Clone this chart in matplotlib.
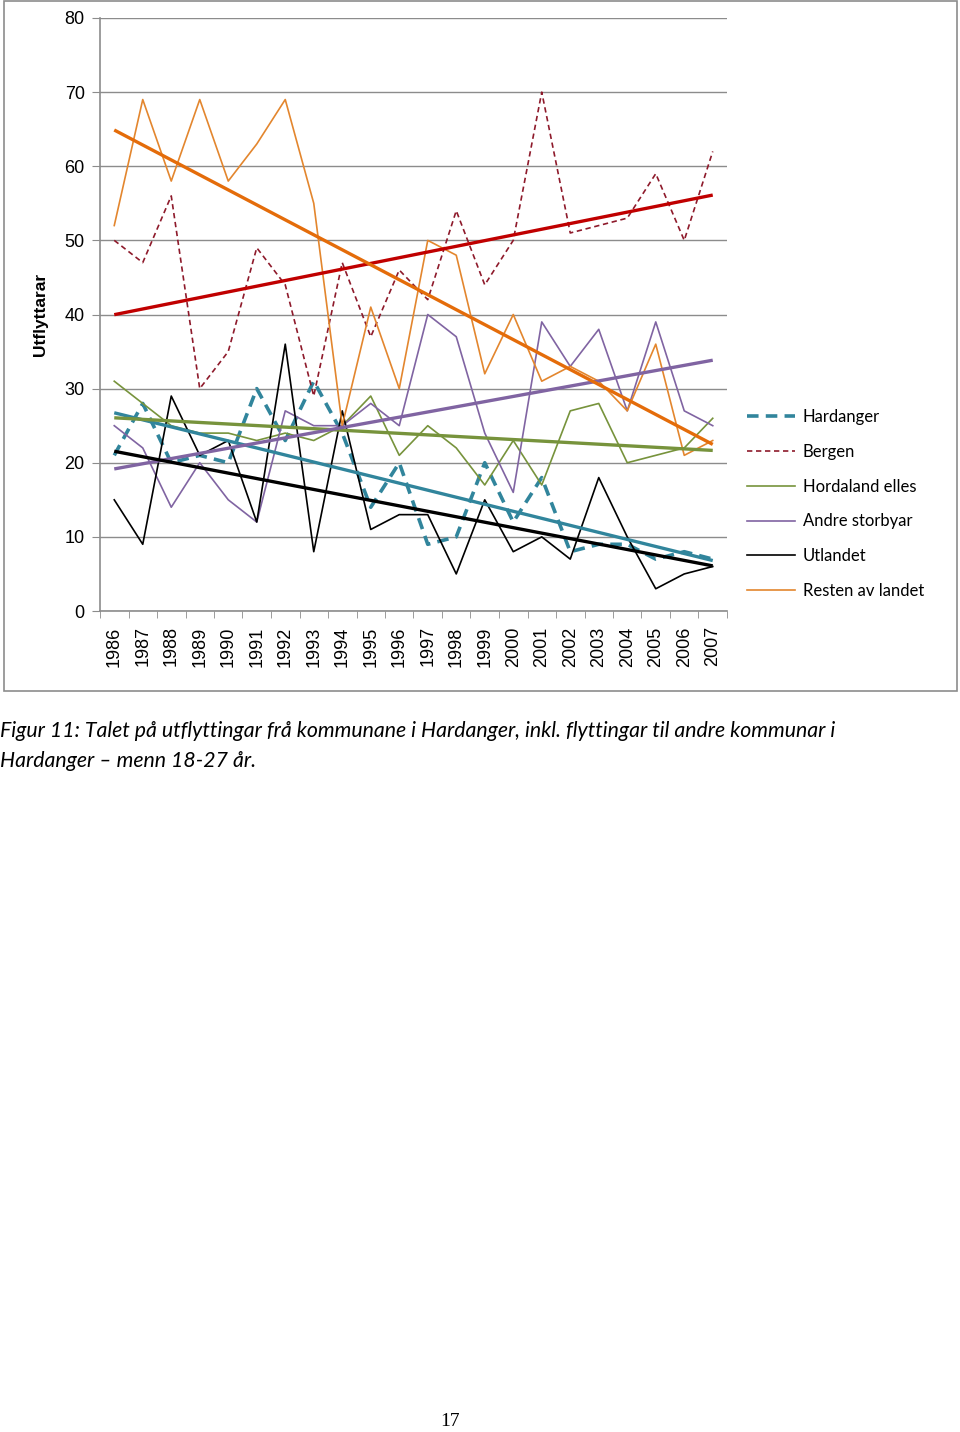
import numpy as np
import matplotlib
matplotlib.use("Agg")
import matplotlib.pyplot as plt
from matplotlib.lines import Line2D
from matplotlib.patches import Rectangle

years = [str(y) for y in range(1986, 2008)]
hardanger = [21, 28, 20, 21, 20, 30, 23, 31, 24, 14, 20, 9, 10, 20, 12, 18, 8, 9, 9, 7, 8, 7]
bergen = [50, 47, 56, 30, 35, 49, 44, 29, 47, 37, 46, 42, 54, 44, 50, 70, 51, 52, 53, 59, 50, 62]
hordaland = [31, 28, 25, 24, 24, 23, 24, 23, 25, 29, 21, 25, 22, 17, 23, 17, 27, 28, 20, 21, 22, 26]
storbyar = [25, 22, 14, 20, 15, 12, 27, 25, 25, 28, 25, 40, 37, 24, 16, 39, 33, 38, 27, 39, 27, 25]
utlandet = [15, 9, 29, 21, 23, 12, 36, 8, 27, 11, 13, 13, 5, 15, 8, 10, 7, 18, 10, 3, 5, 6]
resten = [52, 69, 58, 69, 58, 63, 69, 55, 25, 41, 30, 50, 48, 32, 40, 31, 33, 31, 27, 36, 21, 23]
y_ticks = [0, 10, 20, 30, 40, 50, 60, 70, 80]

W, H = 960, 1432
fig = plt.figure(figsize=(W / 100, H / 100), dpi=100)
ax = fig.add_axes([100 / W, 1 - 611 / H, 627 / W, 593 / H])

x = np.arange(len(years))
series = [
    ("Hardanger", hardanger, dict(color="#31859C", lw=2.6, dashes=(3.2, 2.0)), "#31859C"),
    ("Bergen", bergen, dict(color="#8E1A2B", lw=1.2, dashes=(3.2, 2.2)), "#C00000"),
    ("Hordaland elles", hordaland, dict(color="#77933C", lw=1.2), "#77933C"),
    ("Andre storbyar", storbyar, dict(color="#8064A2", lw=1.2), "#8064A2"),
    ("Utlandet", utlandet, dict(color="#000000", lw=1.2), "#000000"),
    ("Resten av landet", resten, dict(color="#E3862E", lw=1.2), "#E46C0A"),
]

for name, vals, style, tcol in series:
    vals = np.array(vals, dtype=float)
    ax.plot(x, vals, label=name, zorder=3, **style)

for name, vals, style, tcol in series:
    vals = np.array(vals, dtype=float)
    k, m = np.polyfit(x, vals, 1)
    ax.plot(x, k * x + m, color=tcol, lw=2.4, zorder=4, solid_capstyle="butt")

ax.set_xlim(-0.5, len(years) - 0.5)
ax.set_ylim(0, 80)
ax.set_yticks(y_ticks)
ax.set_yticklabels([str(v) for v in y_ticks], fontsize=13, family="Liberation Sans")
ax.yaxis.grid(True, color="#8C8C8C", lw=1.0)
ax.set_axisbelow(True)
ax.set_xticks(x)
ax.set_xticklabels(years, rotation=90, fontsize=13, family="Liberation Sans")
ax.set_xticks(np.arange(-0.5, len(years)), minor=True)
ax.tick_params(axis="x", which="major", length=0, pad=11)
ax.tick_params(axis="x", which="minor", length=5, color="#8C8C8C")
ax.tick_params(axis="y", length=6, color="#8C8C8C", pad=5)
for s in ["top", "right"]:
    ax.spines[s].set_visible(False)
for s in ["left", "bottom"]:
    ax.spines[s].set_color("#8C8C8C")
    ax.spines[s].set_linewidth(1.2)

ax.set_ylabel("Utflyttarar", fontsize=12.5, fontweight="bold", family="Liberation Sans", labelpad=12)

leg_handles = [Line2D([0], [0], **s[2]) for s in series]
fig.legend(leg_handles, [s[0] for s in series], loc="upper left",
           bbox_to_anchor=(732 / W, 1 - 394 / H), frameon=False,
           prop={"family": "Lato", "size": 12}, handlelength=2.9,
           labelspacing=1.13, handletextpad=0.45)

fig.patches.append(Rectangle((4 / W, 1 - 691 / H), 953 / W, 690 / H, transform=fig.transFigure,
                             fill=False, edgecolor="#8C8C8C", lw=1.2))

fig.text(0, 1 - 731 / H, "Figur 11: Talet på utflyttingar frå kommunane i Hardanger, inkl. flyttingar til andre kommunar i",
         fontsize=15.3, style="italic", family="Lato", va="center", ha="left")
fig.text(0, 1 - 761 / H, "Hardanger – menn 18-27 år.",
         fontsize=15.3, style="italic", family="Lato", va="center", ha="left")
fig.text(450 / W, 1 - 1421 / H, "17", fontsize=14, family="Liberation Serif", va="center", ha="center")

fig.savefig("out.png", dpi=100)
